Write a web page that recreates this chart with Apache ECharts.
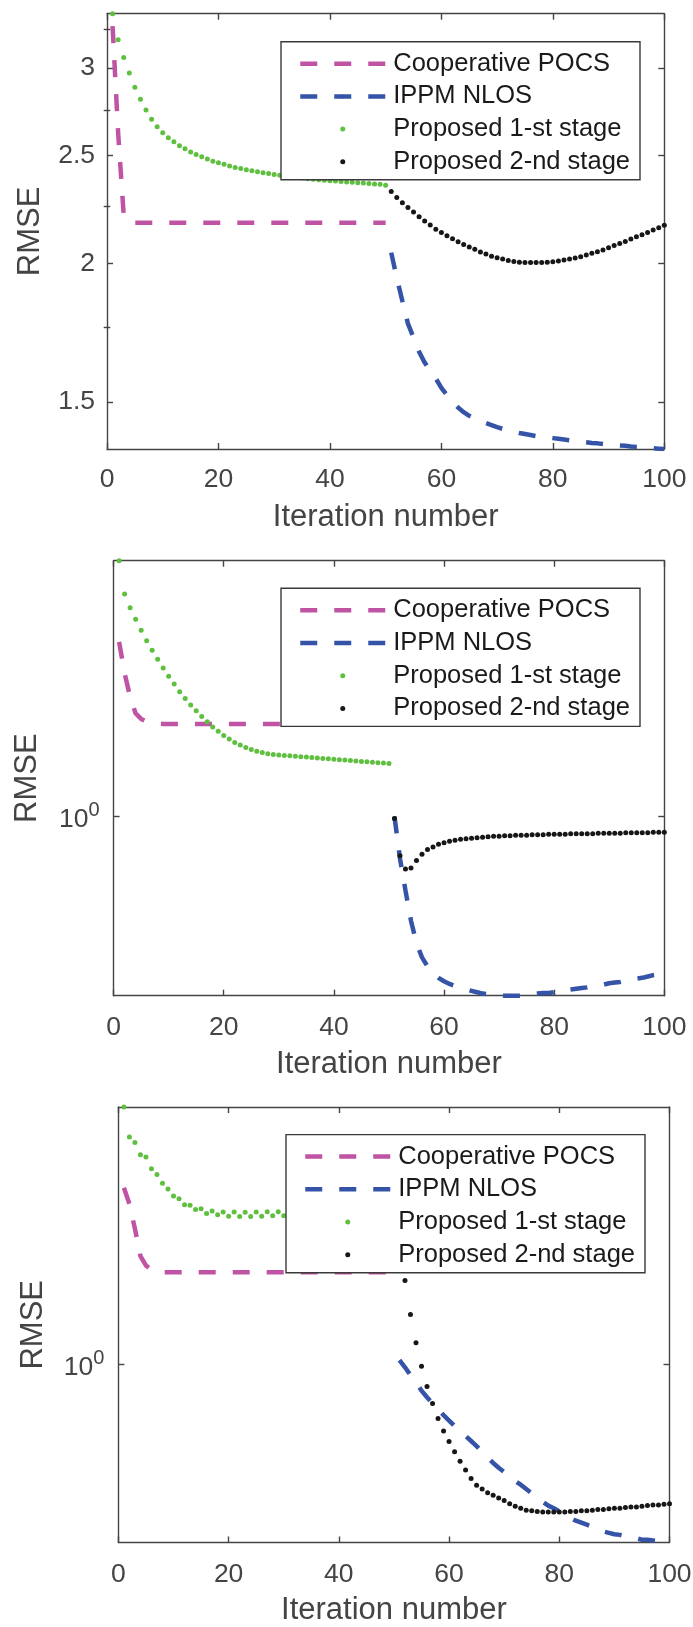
<!DOCTYPE html>
<html>
<head>
<meta charset="utf-8">
<script src="https://cdn.jsdelivr.net/npm/echarts@6/dist/echarts.min.js"></script>
<style>html,body{margin:0;padding:0;background:#fff}#chart{width:693px;height:1627px}</style>
</head>
<body>
<div id="chart"></div>
<script>
// ---------- data ----------
const iterStage1 = [1,2,3,4,5,6,7,8,9,10,11,12,13,14,15,16,17,18,19,20,21,22,23,24,25,26,27,28,29,30,31,32,33,34,35,36,37,38,39,40,41,42,43,44,45,46,47,48,49,50];
const iterStage2 = [51,52,53,54,55,56,57,58,59,60,61,62,63,64,65,66,67,68,69,70,71,72,73,74,75,76,77,78,79,80,81,82,83,84,85,86,87,88,89,90,91,92,93,94,95,96,97,98,99,100];
const xTickValues = [0, 20, 40, 60, 80, 100];
const seriesNames = ['Cooperative POCS', 'IPPM NLOS', 'Proposed 1-st stage', 'Proposed 2-nd stage'];

// Panel 1
const p1Pocs = [3.27,2.62,2.21,2.18,2.176,2.176,2.176,2.176,2.176,2.176,2.176,2.176,2.176,2.176,2.176,2.176,2.176,2.176,2.176,2.176,2.176,2.176,2.176,2.176,2.176,2.176,2.176,2.176,2.176,2.176,2.176,2.176,2.176,2.176,2.176,2.176,2.176,2.176,2.176,2.176,2.176,2.176,2.176,2.176,2.176,2.176,2.176,2.176,2.176,2.176];
const p1Ippm = [2.045,1.94,1.85,1.765,1.715,1.665,1.628,1.60,1.575,1.545,
  1.522,1.500,1.483,1.469,1.458,1.450,1.443,1.436,1.430,1.424,
  1.419,1.415,1.411,1.407,1.404,1.401,1.398,1.396,1.394,1.392,
  1.390,1.388,1.386,1.384,1.382,1.380,1.378,1.377,1.375,1.374,
  1.372,1.371,1.370,1.368,1.367,1.366,1.365,1.363,1.362,1.361];
const p1Stage1 = [3.356,3.18,3.065,2.967,2.882,2.810,2.748,2.697,2.655,2.622,
  2.595,2.573,2.552,2.536,2.520,2.506,2.495,2.483,2.472,2.464,
  2.456,2.447,2.440,2.434,2.428,2.423,2.418,2.413,2.409,2.405,
  2.401,2.397,2.393,2.390,2.387,2.384,2.381,2.378,2.376,2.374,
  2.372,2.370,2.368,2.366,2.364,2.362,2.360,2.358,2.356,2.352];
const p1Stage2 = [2.321,2.293,2.268,2.246,2.225,2.203,2.183,2.165,2.147,2.132,
  2.118,2.105,2.092,2.080,2.069,2.059,2.048,2.039,2.030,2.023,
  2.018,2.012,2.008,2.005,2.004,2.003,2.003,2.004,2.005,2.007,
  2.010,2.014,2.018,2.022,2.028,2.035,2.042,2.049,2.056,2.066,
  2.075,2.084,2.093,2.103,2.113,2.122,2.132,2.143,2.153,2.164];
const p1YRange = [1.361, 3.356];
const p1YTicks = [1.5, 2, 2.5, 3];
const p1YMinorTicks = [1.75, 2.25, 2.75, 3.25];

// Panel 2
const p2Pocs = [1.435,1.344,1.281,1.237,1.223,1.216,1.213,1.211,1.2105,1.2105,1.2105,1.2105,1.2105,1.2105,1.2105,1.2105,1.2105,1.2105,1.2105,1.2105,1.2105,1.2105,1.2105,1.2105,1.2105,1.2105,1.2105,1.2105,1.2105,1.2105,1.2105,1.2105,1.2105,1.2105,1.2105,1.2105,1.2105,1.2105,1.2105,1.2105,1.2105,1.2105,1.2105,1.2105,1.2105,1.2105,1.2105,1.2105,1.2105,1.2105];
const p2Ippm = [0.999,0.916,0.857,0.805,0.768,0.746,0.732,0.722,0.715,0.710,
  0.706,0.703,0.700,0.698,0.696,0.694,0.692,0.691,0.690,0.690,
  0.689,0.689,0.689,0.689,0.690,0.691,0.692,0.693,0.693,0.694,
  0.695,0.697,0.698,0.699,0.700,0.701,0.703,0.704,0.705,0.707,
  0.708,0.709,0.711,0.712,0.714,0.715,0.717,0.719,0.720,0.722];
const p2Stage1 = [1.698,1.585,1.540,1.504,1.470,1.438,1.410,1.384,1.359,1.336,
  1.315,1.294,1.276,1.259,1.244,1.229,1.216,1.203,1.192,1.182,
  1.173,1.165,1.159,1.153,1.148,1.144,1.141,1.138,1.136,1.135,
  1.134,1.133,1.132,1.131,1.130,1.129,1.128,1.127,1.126,1.125,
  1.124,1.123,1.122,1.121,1.120,1.119,1.118,1.117,1.116,1.115];
const p2Stage2 = [0.995,0.921,0.896,0.898,0.912,0.924,0.933,0.938,0.943,0.946,
  0.949,0.951,0.953,0.954,0.955,0.956,0.957,0.958,0.959,0.959,
  0.960,0.960,0.961,0.961,0.961,0.962,0.962,0.962,0.963,0.963,
  0.963,0.963,0.964,0.964,0.964,0.964,0.964,0.965,0.965,0.965,
  0.965,0.965,0.966,0.966,0.966,0.966,0.966,0.967,0.967,0.967];
const p2YRange = [0.689, 1.698];
const p2YTicks = [1];

// Panel 3
const p3Pocs = [1.443,1.395,1.325,1.252,1.228,1.216,1.213,1.211,1.211,1.211,1.211,1.211,1.211,1.211,1.211,1.211,1.211,1.211,1.211,1.211,1.211,1.211,1.211,1.211,1.211,1.211,1.211,1.211,1.211,1.211,1.211,1.211,1.211,1.211,1.211,1.211,1.211,1.211,1.211,1.211,1.211,1.211,1.211,1.211,1.211,1.211,1.211,1.211,1.211,1.211];
const p3Ippm = [1.009,0.994,0.978,0.963,0.947,0.934,0.922,0.911,0.900,0.890,
  0.880,0.871,0.862,0.853,0.844,0.834,0.824,0.815,0.807,0.800,
  0.793,0.785,0.779,0.772,0.765,0.759,0.752,0.746,0.742,0.737,
  0.732,0.727,0.723,0.720,0.717,0.714,0.710,0.707,0.705,0.703,
  0.702,0.700,0.699,0.697,0.695,0.695,0.694,0.693,0.692,0.691];
const p3Stage1 = [1.706,1.603,1.585,1.545,1.538,1.501,1.483,1.456,1.439,1.418,
  1.410,1.393,1.391,1.379,1.381,1.368,1.375,1.364,1.372,1.360,
  1.372,1.359,1.371,1.359,1.372,1.360,1.373,1.361,1.373,1.361,
  1.372,1.360,1.373,1.361,1.372,1.360,1.373,1.361,1.372,1.360,
  1.373,1.361,1.372,1.360,1.373,1.361,1.372,1.360,1.373,1.361];
const p3Stage2 = [1.29,1.190,1.109,1.046,0.996,0.955,0.922,0.894,0.871,0.852,
  0.834,0.818,0.803,0.789,0.778,0.772,0.766,0.762,0.758,0.754,
  0.749,0.745,0.742,0.739,0.738,0.737,0.736,0.736,0.736,0.736,
  0.736,0.737,0.737,0.738,0.738,0.739,0.740,0.740,0.741,0.742,
  0.742,0.743,0.744,0.744,0.745,0.746,0.747,0.747,0.748,0.749];
const p3YRange = [0.691, 1.706];
const p3YTicks = [1];

// ---------- styles / layout ----------
const FONT = '"Liberation Sans", Arial, Helvetica, sans-serif';
const AXIS_COLOR = '#444444';
const LABEL_COLOR = '#444444';
const COLORS = { pocs: '#c054a4', ippm: '#3554a8', s1: '#5fbf3f', s2: '#161616' };

const panels = [
  { grid: { left: 107, top: 13.7, width: 557.3, height: 435.3 },
    yRange: p1YRange, yTicks: p1YTicks, yMinor: p1YMinorTicks,
    pocs: p1Pocs, ippm: p1Ippm, s1: p1Stage1, s2: p1Stage2,
    legendPos: { left: 281, top: 41.7 }, yNameGap: 61.5, yLabelMargin: 12,
    xLabelMargin: 17, xNameGap: 53 },
  { grid: { left: 113.6, top: 560.7, width: 550.7, height: 435 },
    yRange: p2YRange, yTicks: p2YTicks, yMinor: null,
    pocs: p2Pocs, ippm: p2Ippm, s1: p2Stage1, s2: p2Stage2,
    legendPos: { left: 281, top: 588.3 }, yNameGap: 70.5, yLabelMargin: 14,
    xLabelMargin: 18, xNameGap: 53 },
  { grid: { left: 118.4, top: 1107, width: 551.1, height: 435.5 },
    yRange: p3YRange, yTicks: p3YTicks, yMinor: null,
    pocs: p3Pocs, ippm: p3Ippm, s1: p3Stage1, s2: p3Stage2,
    legendPos: { left: 286, top: 1134.6 }, yNameGap: 69, yLabelMargin: 14,
    xLabelMargin: 18.5, xNameGap: 52 }
];

function yLabelFormatter(v) {
  if (Math.abs(v - 1) < 1e-9) return '{b|10}{s|0}';
  return String(Math.round(v * 100) / 100);
}

const option = {
  animation: false,
  backgroundColor: '#ffffff',
  textStyle: { fontFamily: FONT },
  grid: [], xAxis: [], yAxis: [], series: [], legend: []
};

const lineAxisStyle = { color: AXIS_COLOR, width: 1.4 };

panels.forEach((p, k) => {
  option.grid.push(Object.assign({ containLabel: false, outerBoundsMode: 'none' }, p.grid));

  const xBottom = option.xAxis.length;
  option.xAxis.push({
    gridIndex: k, type: 'value', position: 'bottom', min: 0, max: 100, interval: 20,
    axisLine: { show: true, onZero: false, lineStyle: lineAxisStyle },
    axisTick: { show: true, inside: true, length: 6, lineStyle: lineAxisStyle },
    axisLabel: { show: true, fontSize: 26.5, color: LABEL_COLOR, fontFamily: FONT, margin: p.xLabelMargin,
                 customValues: xTickValues },
    splitLine: { show: false },
    name: 'Iteration number', nameLocation: 'middle', nameGap: p.xNameGap,
    nameTextStyle: { fontSize: 31, color: LABEL_COLOR, fontFamily: FONT }
  });
  option.xAxis.push({
    gridIndex: k, type: 'value', position: 'top', min: 0, max: 100, interval: 20,
    axisLine: { show: true, onZero: false, lineStyle: lineAxisStyle },
    axisTick: { show: true, inside: true, length: 6, lineStyle: lineAxisStyle },
    axisLabel: { show: false }, splitLine: { show: false }
  });

  const yLeft = option.yAxis.length;
  const yCommon = {
    gridIndex: k, type: 'log', logBase: 10, min: p.yRange[0], max: p.yRange[1],
    splitLine: { show: false }, minorTick: { show: false }
  };
  option.yAxis.push(Object.assign({}, yCommon, {
    position: 'left',
    axisLine: { show: true, onZero: false, lineStyle: lineAxisStyle },
    axisTick: { show: true, inside: true, length: 6, lineStyle: lineAxisStyle, customValues: p.yTicks },
    axisLabel: {
      show: true, customValues: p.yTicks, formatter: yLabelFormatter,
      fontSize: 26.5, color: LABEL_COLOR, fontFamily: FONT, margin: p.yLabelMargin,
      padding: p.yTicks.length === 1 ? [8, 0, 0, 0] : 0,
      rich: {
        b: { fontSize: 26.5, color: LABEL_COLOR, fontFamily: FONT, lineHeight: 26, verticalAlign: 'bottom' },
        s: { fontSize: 20, color: LABEL_COLOR, fontFamily: FONT, lineHeight: 20, verticalAlign: 'bottom', padding: [0, 0, 13, 0] }
      }
    },
    name: 'RMSE', nameLocation: 'middle', nameGap: p.yNameGap,
    nameTextStyle: { fontSize: 31, color: LABEL_COLOR, fontFamily: FONT }
  }));
  option.yAxis.push(Object.assign({}, yCommon, {
    position: 'right',
    axisLine: { show: true, onZero: false, lineStyle: lineAxisStyle },
    axisTick: { show: true, inside: true, length: 6, lineStyle: lineAxisStyle, customValues: p.yTicks },
    axisLabel: { show: false, customValues: p.yTicks }
  }));
  if (p.yMinor) {
    ['left', 'right'].forEach(pos => {
      option.yAxis.push(Object.assign({}, yCommon, {
        position: pos,
        axisLine: { show: false },
        axisTick: { show: true, inside: true, length: 3.3, lineStyle: lineAxisStyle, customValues: p.yMinor },
        axisLabel: { show: false, customValues: p.yMinor }
      }));
    });
  }

  const pairs = (xs, ys) => xs.map((x, j) => [x, ys[j]]);
  const dashed = { width: 4.5, type: [17, 17] };

  option.series.push({
    name: seriesNames[0], type: 'line', xAxisIndex: xBottom, yAxisIndex: yLeft,
    data: pairs(iterStage1, p.pocs), symbol: 'none', showSymbol: false,
    lineStyle: Object.assign({ color: COLORS.pocs }, dashed), itemStyle: { color: COLORS.pocs },
    z: 2
  });
  option.series.push({
    name: seriesNames[1], type: 'line', xAxisIndex: xBottom, yAxisIndex: yLeft,
    data: pairs(iterStage2, p.ippm), symbol: 'none', showSymbol: false,
    lineStyle: Object.assign({ color: COLORS.ippm }, dashed), itemStyle: { color: COLORS.ippm },
    z: 2
  });
  option.series.push({
    name: seriesNames[2], type: 'scatter', xAxisIndex: xBottom, yAxisIndex: yLeft,
    data: pairs(iterStage1, p.s1), symbol: 'circle', symbolSize: 5, clip: false,
    itemStyle: { color: COLORS.s1, opacity: 1 }, z: 3
  });
  option.series.push({
    name: seriesNames[3], type: 'scatter', xAxisIndex: xBottom, yAxisIndex: yLeft,
    data: pairs(iterStage2, p.s2), symbol: 'circle', symbolSize: 5, clip: false,
    itemStyle: { color: COLORS.s2, opacity: 1 }, z: 3
  });

  option.legend.push({
    show: true, orient: 'vertical', left: p.legendPos.left, top: p.legendPos.top,
    data: seriesNames, selectedMode: false,
    itemWidth: 85, itemHeight: 5, itemGap: 6.7,
    padding: [9, 10, 5, 17],
    backgroundColor: '#ffffff', borderColor: '#3a3a3a', borderWidth: 1.4, borderRadius: 0,
    lineStyle: { width: 4.5 },
    textStyle: { fontSize: 25.5, color: '#1a1a1a', fontFamily: FONT, lineHeight: 25, padding: [0, 0, 0, 3] },
    z: 10
  });
});

const chart = echarts.init(document.getElementById('chart'), null, { renderer: 'canvas' });
chart.setOption(option);
</script>
</body>
</html>
